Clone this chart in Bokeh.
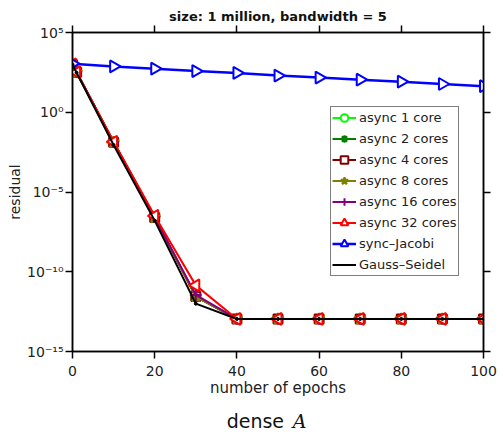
import numpy as np
from bokeh.plotting import figure
from bokeh.layouts import column
from bokeh.models import (LogAxis, LinearAxis, FixedTicker, CustomJSTickFormatter, Range1d)
from bokeh.embed import file_html
from bokeh.resources import INLINE
from bokeh.core.properties import value

# ---------------- data ----------------
epochs_async = [0, 1, 10, 20, 30, 40, 50, 60, 70, 80, 90, 100]
epochs_jacobi = [0, 10, 20, 30, 40, 50, 60, 70, 80, 90, 100]

async_1 = [1.0e3, 3.2e2, 1.3e-2, 2.5e-7, 2.8e-12, 1.1e-13, 1.1e-13, 1.1e-13, 1.1e-13, 1.1e-13, 1.1e-13, 1.1e-13]
async_2 = [1.0e3, 3.2e2, 1.3e-2, 2.5e-7, 2.8e-12, 1.1e-13, 1.1e-13, 1.1e-13, 1.1e-13, 1.1e-13, 1.1e-13, 1.1e-13]
async_4 = [1.0e3, 3.2e2, 1.3e-2, 2.5e-7, 2.8e-12, 1.1e-13, 1.1e-13, 1.1e-13, 1.1e-13, 1.1e-13, 1.1e-13, 1.1e-13]
async_8 = [1.0e3, 3.2e2, 1.3e-2, 2.5e-7, 2.8e-12, 1.1e-13, 1.1e-13, 1.1e-13, 1.1e-13, 1.1e-13, 1.1e-13, 1.1e-13]
async_16 = [1.0e3, 3.2e2, 1.3e-2, 2.6e-7, 3.5e-12, 1.1e-13, 1.1e-13, 1.1e-13, 1.1e-13, 1.1e-13, 1.1e-13, 1.1e-13]
async_32 = [1.0e3, 3.2e2, 1.4e-2, 3.2e-7, 1.4e-11, 1.1e-13, 1.1e-13, 1.1e-13, 1.1e-13, 1.1e-13, 1.1e-13, 1.1e-13]
sync_jacobi = [1.1e3, 7.5e2, 5.4e2, 3.8e2, 2.9e2, 2.0e2, 1.5e2, 1.1e2, 83, 59, 43]
gauss_seidel = [1.0e3, 3.0e2, 8.9e-3, 1.6e-7, 1.0e-12, 1.1e-13, 1.1e-13, 1.1e-13, 1.1e-13, 1.1e-13, 1.1e-13, 1.1e-13]

series_labels = ["async 1 core", "async 2 cores", "async 4 cores", "async 8 cores",
                 "async 16 cores", "async 32 cores", "sync\u2013Jacobi", "Gauss\u2013Seidel"]

y_ticks = [1e-15, 1e-10, 1e-5, 1, 1e5]
x_ticks = [0, 20, 40, 60, 80, 100]

title_text = "size: 1 million, bandwidth = 5"
x_label = "number of epochs"
y_label = "residual"
caption_word = "dense"
caption_symbol = "A"

FONT = "DejaVu Sans"

p = figure(width=499, height=400, y_axis_type="log",
           x_range=Range1d(0, 100), y_range=Range1d(1e-15, 1e5),
           output_backend="svg", toolbar_location=None,
           min_border_left=72, min_border_right=16,
           min_border_top=32, min_border_bottom=49)
p.grid.visible = False
p.outline_line_color = "black"
p.outline_line_width = 1.5
p.background_fill_color = "white"
p.border_fill_color = "white"

p.title.text = title_text
p.title.align = "center"
p.title.text_font = FONT
p.title.text_font_size = "13px"
p.title.text_font_style = "bold"
p.title.text_color = "#111111"
p.title.standoff = 3

fmt = CustomJSTickFormatter(code="""
const sup = {'-':'\u207b','0':'\u2070','1':'\u00b9','2':'\u00b2','3':'\u00b3','4':'\u2074',
             '5':'\u2075','6':'\u2076','7':'\u2077','8':'\u2078','9':'\u2079'};
const e = Math.round(Math.log10(tick));
return '10' + String(e).split('').map(c => sup[c]).join('');
""")

def style_axis(ax, show_labels=True):
    ax.major_tick_in = 0
    ax.major_tick_out = 7
    ax.minor_tick_in = 0
    ax.minor_tick_out = 0
    ax.axis_line_color = "black"
    ax.axis_line_width = 1.5
    ax.major_tick_line_color = "black"
    ax.major_tick_line_width = 1.5
    ax.major_label_text_font = FONT
    ax.major_label_text_color = "#222222"
    if show_labels:
        ax.major_label_text_font_size = "14px"
    else:
        ax.major_label_text_font_size = "2px"
        ax.major_label_text_alpha = 0
        ax.major_label_standoff = 0

# left
yax = p.yaxis[0]
yax.ticker = FixedTicker(ticks=y_ticks, minor_ticks=[])
yax.formatter = fmt
style_axis(yax)
yax.major_label_standoff = 2
yax.axis_label = y_label
yax.axis_label_text_font = FONT
yax.axis_label_text_font_style = "normal"
yax.axis_label_text_font_size = "14px"
yax.axis_label_text_color = "#222222"
yax.axis_label_standoff = 1

# bottom
xax = p.xaxis[0]
xax.ticker = FixedTicker(ticks=x_ticks, minor_ticks=[])
style_axis(xax)
xax.major_label_standoff = 7
xax.axis_label = x_label
xax.axis_label_text_font = FONT
xax.axis_label_text_font_style = "normal"
xax.axis_label_text_font_size = "15px"
xax.axis_label_text_color = "#222222"
xax.axis_label_standoff = 0

# top and right (ticks only)
top = LinearAxis(ticker=FixedTicker(ticks=x_ticks, minor_ticks=[]))
style_axis(top, show_labels=False)
p.add_layout(top, "above")
right = LogAxis(ticker=FixedTicker(ticks=y_ticks, minor_ticks=[]))
style_axis(right, show_labels=False)
p.add_layout(right, "right")

LW = 2
specs = [
    (async_1, "#00ff00", "circle", 9, "white", 0),
    (async_2, "#008000", "asterisk", 9, "#008000", 0),
    (async_4, "#800000", "square", 9, "white", 0),
    (async_8, "#808000", "star", 12, "#808000", 0),
    (async_16, "#800080", "cross", 11, "#800080", 0),
    (async_32, "#ff0000", "triangle", 12, "white", np.pi / 2),
]
for (ys, col, mk, sz, fill, ang), lab in zip(specs, series_labels[:6]):
    p.line(epochs_async, ys, line_color=col, line_width=LW, legend_label=lab)
    p.scatter(epochs_async, ys, marker=mk, size=sz, line_color=col, fill_color=fill,
              line_width=2, angle=ang, legend_label=lab)

p.line(epochs_jacobi, sync_jacobi, line_color="#0000ff", line_width=2.5, legend_label=series_labels[6])
p.scatter(epochs_jacobi, sync_jacobi, marker="triangle", size=12, angle=-np.pi / 2,
          line_color="#0000ff", fill_color="white", line_width=2, legend_label=series_labels[6])

p.line(epochs_async, gauss_seidel, line_color="black", line_width=2, legend_label=series_labels[7])
p.scatter(epochs_async, gauss_seidel, marker="circle", size=3, line_color="black",
          fill_color="black")

lg = p.legend[0]
lg.location = (258, 75)
lg.border_line_color = "black"
lg.border_line_width = 1.2
lg.background_fill_color = "white"
lg.background_fill_alpha = 1
lg.label_text_font = FONT
lg.label_text_font_size = "13px"
lg.label_text_color = "#222222"
lg.glyph_width = 24
lg.glyph_height = 19
lg.label_height = 19
lg.label_standoff = 3
lg.spacing = 2
lg.padding = 1
lg.margin = 0

# caption strip below the chart ("dense A"); its frame is aligned with the chart's frame
cap = figure(width=499, height=35, x_range=Range1d(0, 100), y_range=Range1d(0, 35),
             output_backend="svg", toolbar_location=None, min_border=0)
cap.axis.visible = False
cap.grid.visible = False
cap.outline_line_color = None
cap.background_fill_color = "white"
cap.border_fill_color = "white"
cap.text(x=[37.5], y=[15], text=[caption_word], text_font=value(FONT), text_font_size="19px",
         text_align="left", text_baseline="alphabetic", text_color="#111111")
cap.text(x=[53.6], y=[15], text=[caption_symbol], text_font=value("DejaVu Serif"),
         text_font_style="italic", text_font_size="19px",
         text_align="left", text_baseline="alphabetic", text_color="#111111")

layout = column(p, cap, spacing=0)
open("out.html", "w").write(file_html(layout, INLINE))
